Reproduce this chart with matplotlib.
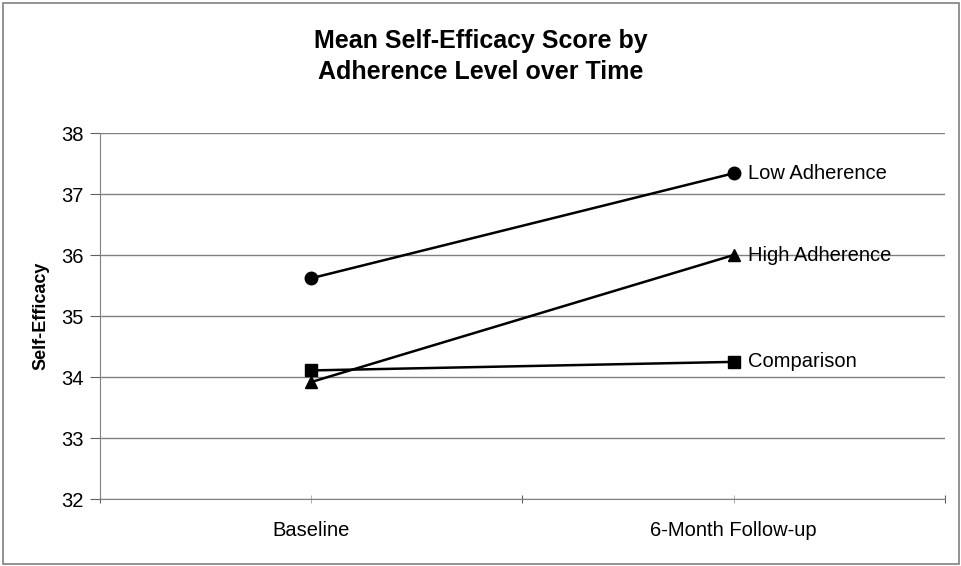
import numpy as np
import matplotlib.pyplot as plt
from matplotlib.patches import Rectangle

# Data
time_points = ['Baseline', '6-Month Follow-up']
low_adherence = [35.62, 37.34]
high_adherence = [33.92, 36.0]
comparison = [34.11, 34.25]

series = [
    ('Low Adherence', low_adherence, 'o', 9),
    ('High Adherence', high_adherence, '^', 9),
    ('Comparison', comparison, 's', 8),
]

plt.rcParams['font.family'] = ['Liberation Sans', 'DejaVu Sans']

fig = plt.figure(figsize=(9.62, 5.66), dpi=100)
ax = fig.add_axes([0.104, 0.118, 0.878, 0.647])

x = np.arange(len(time_points)) + 0.5

for name, vals, mk, ms in series:
    ax.plot(x, vals, color='black', linewidth=1.8, marker=mk, markersize=ms,
            markerfacecolor='black', markeredgecolor='black', zorder=3)
    ax.text(x[-1] + 0.035, vals[-1], name, va='center', ha='left', fontsize=14.5)

ax.set_xlim(0, 2)
ax.set_ylim(32, 38)
ax.set_yticks(np.arange(32, 39, 1))
ax.set_xticks([0, 1, 2])
ax.set_xticklabels([])
ax.set_xticks(x, minor=True)
ax.set_xticklabels(time_points, minor=True, fontsize=14.5)
ax.tick_params(axis='x', which='major', length=6, color='#606060', direction='inout')
ax.tick_params(axis='x', which='minor', length=6, color='#a0a0a0', direction='inout', pad=13)
ax.tick_params(axis='y', length=7, color='#606060', labelsize=14.5, pad=5)

ax.grid(axis='y', color='#808080', linewidth=1)
ax.set_axisbelow(True)
for s in ['top', 'right']:
    ax.spines[s].set_visible(False)
for s in ['left', 'bottom']:
    ax.spines[s].set_color('#808080')

ax.set_ylabel('Self-Efficacy', fontsize=13, fontweight='bold', labelpad=8)

fig.text(0.5, 0.9, 'Mean Self-Efficacy Score by\nAdherence Level over Time',
         ha='center', va='center', fontsize=18, fontweight='bold', linespacing=1.35)

# outer chart border
fig.patches.append(Rectangle((0.003, 0.004), 0.994, 0.991, transform=fig.transFigure,
                             fill=False, edgecolor='#808080', linewidth=1.2))

fig.savefig('out.png', dpi=100)
